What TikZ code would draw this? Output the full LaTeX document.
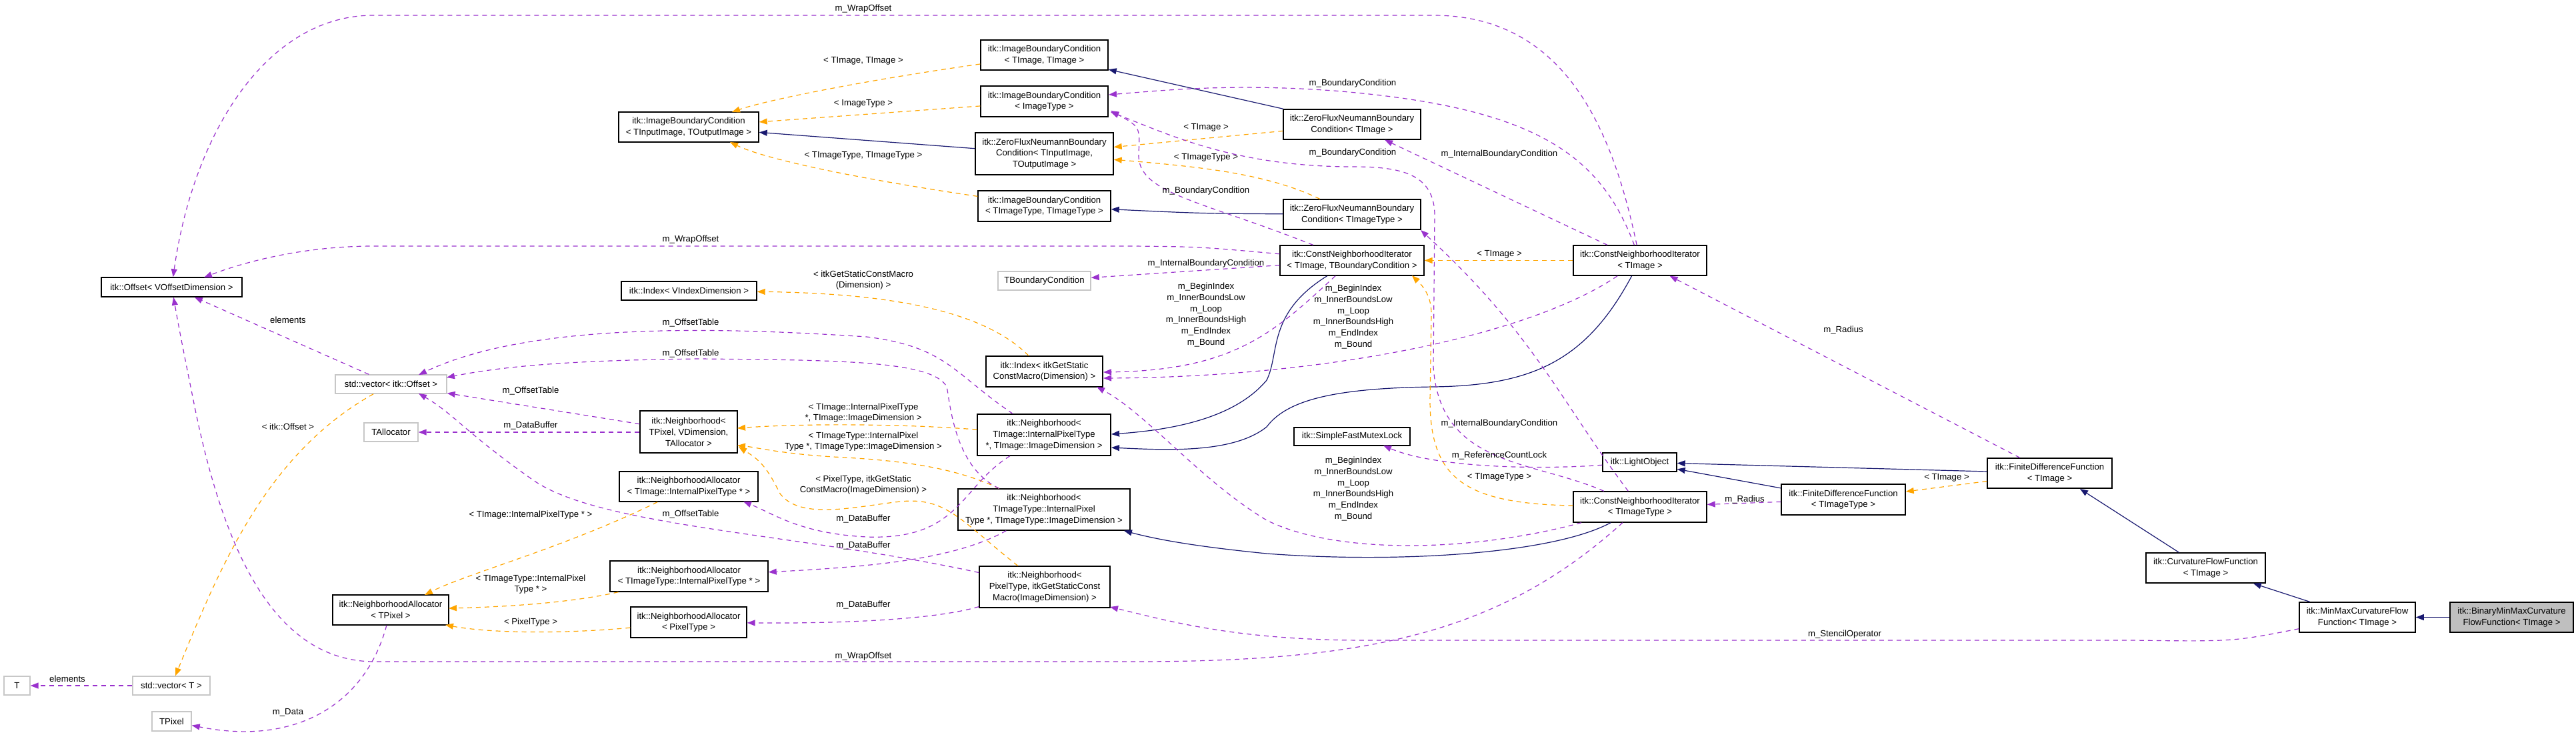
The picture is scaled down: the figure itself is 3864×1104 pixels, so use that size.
\documentclass[tikz,border=0pt]{standalone}
\usepackage{fontspec}
\setmainfont{Liberation Sans}
\usetikzlibrary{arrows.meta}
\definecolor{navy}{RGB}{25,25,112}
\definecolor{purp}{RGB}{154,50,205}
\definecolor{orng}{RGB}{255,165,0}
\newcommand\txtfont{\fontsize{6.6pt}{8.4pt}\selectfont}
\newcommand\bx[7][]{\node[box,#1,minimum width={(#5-#3)*0.5pt},minimum height={(#6-#4)*0.5pt}] (#2) at ({(#3+#5)/2},{(#4+#6)/2}) {#7};}
\begin{document}
\begin{tikzpicture}[x=0.5pt,y=-0.5pt,
  box/.style={draw=black,fill=white,align=center,font=\txtfont,inner sep=0pt,line width=0.7pt},
  gbox/.style={draw=black!22},
  lbl/.style={font=\txtfont,align=center,inner sep=0pt},
  tip/.style={-{Triangle[length=6pt,width=4.5pt]}},
  inh/.style={draw=navy,line width=0.6pt,tip,navy},
  use/.style={draw=purp,line width=0.6pt,dash pattern=on 3.5pt off 3pt,tip,purp},
  tpl/.style={draw=orng,line width=0.6pt,dash pattern=on 3.5pt off 3pt,tip,orng}]
\useasboundingbox (0,0) rectangle (3864,1104);
% nodes
\bx{off}{152}{416}{363}{445}{itk::Offset< VOffsetDimension >}
\bx{ibcIO}{928}{168}{1138}{213}{itk::ImageBoundaryCondition\\< TInputImage, TOutputImage >}
\bx{ibcTT}{1471}{60}{1662}{105}{itk::ImageBoundaryCondition\\< TImage, TImage >}
\bx{ibcI}{1471}{129}{1662}{175}{itk::ImageBoundaryCondition\\< ImageType >}
\bx{zfIO}{1463}{199}{1670}{262}{itk::ZeroFluxNeumannBoundary\\Condition< TInputImage,\\ TOutputImage >}
\bx{ibcTTT}{1467}{286}{1666}{332}{itk::ImageBoundaryCondition\\< TImageType, TImageType >}
\bx{zfT}{1925}{164}{2131}{209}{itk::ZeroFluxNeumannBoundary\\Condition< TImage >}
\bx{zfTT}{1925}{299}{2131}{344}{itk::ZeroFluxNeumannBoundary\\Condition< TImageType >}
\bx{cnibc}{1920}{368}{2136}{413}{itk::ConstNeighborhoodIterator\\< TImage, TBoundaryCondition >}
\bx[gbox]{tbc}{1497}{407}{1636}{435}{TBoundaryCondition}
\bx{idxV}{932}{422}{1135}{450}{itk::Index< VIndexDimension >}
\bx{idxS}{1479}{534}{1654}{580}{itk::Index< itkGetStatic\\ConstMacro(Dimension) >}
\bx{cniT}{2360}{368}{2560}{413}{itk::ConstNeighborhoodIterator\\< TImage >}
\bx[gbox]{vecO}{503}{562}{670}{590}{std::vector< itk::Offset >}
\bx[gbox]{talloc}{546}{634}{627}{662}{TAllocator}
\bx{nbPVA}{960}{616}{1106}{679}{itk::Neighborhood<\\ TPixel, VDimension,\\ TAllocator >}
\bx{nbTI}{1466}{621}{1666}{683}{itk::Neighborhood<\\ TImage::InternalPixelType\\ *, TImage::ImageDimension >}
\bx{mutex}{1941}{641}{2115}{668}{itk::SimpleFastMutexLock}
\bx{light}{2404}{679}{2515}{707}{itk::LightObject}
\bx{naTI}{929}{707}{1137}{752}{itk::NeighborhoodAllocator\\< TImage::InternalPixelType * >}
\bx{nbTTI}{1437}{733}{1695}{795}{itk::Neighborhood<\\ TImageType::InternalPixel\\Type *, TImageType::ImageDimension >}
\bx{cniTT}{2360}{737}{2560}{783}{itk::ConstNeighborhoodIterator\\< TImageType >}
\bx{fdfTT}{2672}{726}{2858}{772}{itk::FiniteDifferenceFunction\\< TImageType >}
\bx{fdfT}{2981}{687}{3168}{732}{itk::FiniteDifferenceFunction\\< TImage >}
\bx{naTTI}{915}{841}{1152}{887}{itk::NeighborhoodAllocator\\< TImageType::InternalPixelType * >}
\bx{nbPS}{1469}{849}{1665}{911}{itk::Neighborhood<\\ PixelType, itkGetStaticConst\\Macro(ImageDimension) >}
\bx{naP}{946}{910}{1120}{956}{itk::NeighborhoodAllocator\\< PixelType >}
\bx{naTP}{499}{892}{673}{937}{itk::NeighborhoodAllocator\\< TPixel >}
\bx{cff}{3219}{829}{3398}{874}{itk::CurvatureFlowFunction\\< TImage >}
\bx{mm}{3449}{903}{3623}{948}{itk::MinMaxCurvatureFlow\\Function< TImage >}
\bx[fill=black!25]{bin}{3675}{903}{3860}{948}{itk::BinaryMinMaxCurvature\\FlowFunction< TImage >}
\bx[gbox]{T}{6}{1014}{45}{1042}{T}
\bx[gbox]{vecT}{199}{1014}{315}{1042}{std::vector< T >}
\bx[gbox]{tpix}{228}{1067}{287}{1096}{TPixel}
% inheritance
\draw[inh] (bin) -- (mm);
\draw[inh] (mm) -- (cff);
\draw[inh] (cff.north) ++(-40,0) -- (3120,733);
\draw[inh] (fdfT) -- (light);
\draw[inh] (fdfTT) -- (light);
\draw[inh] (zfT) -- (ibcTT);
\draw[inh] (zfIO) -- (ibcIO);
\draw[inh] (zfTT) .. controls (1800,320) .. (ibcTTT);
\draw[inh] (cnibc) .. controls (1900,470) and (1920,530) .. (1900,570) .. controls (1850,630) and (1750,645) .. (1667,651);
\draw[inh] (cniT) .. controls (2380,540) and (2300,578) .. (2150,580) .. controls (2000,582) and (1930,600) .. (1900,640) .. controls (1850,680) and (1750,675) .. (1667,671);
\draw[inh] (cniTT) .. controls (2330,830) and (2100,845) .. (1900,830) .. controls (1800,820) and (1740,810) .. (nbTTI);
% templates
\draw[tpl] (ibcTT) .. controls (1300,120) and (1150,150) .. (1098,168);
\node[lbl] (l1) at (1295,91) {< TImage, TImage >};
\draw[tpl] (ibcI) -- (ibcIO);
\node[lbl] (l2) at (1295,155) {< ImageType >};
\draw[tpl] (ibcTTT) .. controls (1300,270) and (1150,240) .. (1095,213);
\node[lbl] (l3) at (1295,233) {< TImageType, TImageType >};
\draw[tpl] (zfT) -- (zfIO);
\node[lbl] (l4) at (1809,191) {< TImage >};
\draw[tpl] (zfTT) .. controls (1900,260) and (1800,250) .. (zfIO);
\node[lbl] (l5) at (1809,236) {< TImageType >};
\draw[tpl] (cniT) -- (cnibc);
\node[lbl] (l6) at (2249,381) {< TImage >};
\draw[tpl] (cniTT) .. controls (2200,755) and (2145,720) .. (2145,600) -- (2147,470) .. controls (2147,440) and (2130,425) .. (2118,413);
\node[lbl] (l7) at (2249,715) {< TImageType >};
\draw[tpl] (fdfT) -- (fdfTT);
\node[lbl] (l8) at (2920,716) {< TImage >};
\draw[tpl] (idxS) .. controls (1480,470) and (1350,440) .. (idxV);
\node[lbl] (l9) at (1295,420) {< itkGetStaticConstMacro\\(Dimension) >};
\draw[tpl] (nbTI) .. controls (1350,635) and (1200,635) .. (1106,642);
\node[lbl] (l10) at (1295,619) {< TImage::InternalPixelType\\*, TImage::ImageDimension >};
\draw[tpl] (nbTTI) .. controls (1430,700) and (1350,690) .. (1250,685) .. controls (1170,680) and (1130,670) .. (1106,668);
\node[lbl] (l11) at (1295,662) {< TImageType::InternalPixel\\Type *, TImageType::ImageDimension >};
\draw[tpl] (nbPS) .. controls (1440,780) and (1420,745) .. (1350,752) .. controls (1280,760) and (1200,780) .. (1170,740) .. controls (1150,700) and (1140,690) .. (1108,670);
\node[lbl] (l12) at (1295,727) {< PixelType, itkGetStatic\\ConstMacro(ImageDimension) >};
\draw[tpl] (naTI) .. controls (850,820) and (700,860) .. (637,892);
\node[lbl] (l13) at (796,772) {< TImage::InternalPixelType * >};
\draw[tpl] (naTTI) .. controls (850,905) and (750,910) .. (673,912);
\node[lbl] (l14) at (796,876) {< TImageType::InternalPixel\\Type * >};
\draw[tpl] (naP) .. controls (850,950) and (740,950) .. (668,937);
\node[lbl] (l15) at (796,933) {< PixelType >};
\draw[tpl] (vecO) .. controls (400,680) and (330,850) .. (vecT);
\node[lbl] (l16) at (432,640) {< itk::Offset >};
% usage
\draw[use] (cniT) .. controls (2420,200) and (2350,23) .. (2150,23) -- (560,23) .. controls (400,23) and (290,200) .. (off);
\node[lbl] (u1) at (1295,13) {m\_WrapOffset};
\draw[use] (cnibc) .. controls (1800,370) .. (1700,369) -- (560,369) .. controls (450,369) and (360,395) .. (306,416);
\node[lbl] (u2) at (1036,359) {m\_WrapOffset};
\draw[use] (cniTT) .. controls (2250,950) and (2050,992) .. (1700,992) -- (560,992) .. controls (400,990) and (330,800) .. (290,600) .. controls (270,500) .. (off);
\node[lbl] (u3) at (1295,984) {m\_WrapOffset};
\draw[use] (cniT) .. controls (2400,230) and (2300,160) .. (2000,136) .. controls (1850,125) and (1750,135) .. (1663,142);
\node[lbl] (u4) at (2029,125) {m\_BoundaryCondition};
\draw[use] (cniTT) .. controls (2300,690) and (2160,700) .. (2150,550) -- (2152,320) .. controls (2150,260) and (2100,250) .. (2030,250) .. controls (1850,250) and (1750,200) .. (1666,168);
\node[lbl] (u5) at (2029,229) {m\_BoundaryCondition};
\draw[use] (cnibc) .. controls (1800,300) and (1705,290) .. (1708,230) .. controls (1710,190) .. (1666,166);
\node[lbl] (u6) at (1809,286) {m\_BoundaryCondition};
\draw[use] (cniT) -- (zfT);
\node[lbl] (u7) at (2249,231) {m\_InternalBoundaryCondition};
\draw[use] (cniTT) .. controls (2340,600) and (2300,500) .. (2131,345);
\node[lbl] (u8) at (2249,635) {m\_InternalBoundaryCondition};
\draw[use] (cnibc) -- (tbc);
\node[lbl] (u9) at (1809,395) {m\_InternalBoundaryCondition};
\draw[use] (cnibc) .. controls (1910,500) and (1850,555) .. (1655,558);
\node[lbl] (u10) at (1809,472) {m\_BeginIndex\\m\_InnerBoundsLow\\m\_Loop\\m\_InnerBoundsHigh\\m\_EndIndex\\m\_Bound};
\draw[use] (cniT) .. controls (2300,500) and (2000,565) .. (1655,567);
\node[lbl] (u11) at (2030,475) {m\_BeginIndex\\m\_InnerBoundsLow\\m\_Loop\\m\_InnerBoundsHigh\\m\_EndIndex\\m\_Bound};
\draw[use] (cniTT) .. controls (2200,830) and (2000,830) .. (1900,780) .. controls (1800,720) and (1720,620) .. (1645,580);
\node[lbl] (u12) at (2030,733) {m\_BeginIndex\\m\_InnerBoundsLow\\m\_Loop\\m\_InnerBoundsHigh\\m\_EndIndex\\m\_Bound};
\draw[use] (fdfTT) -- (cniTT);
\node[lbl] (u13) at (2617,749) {m\_Radius};
\draw[use] (fdfT) -- (cniT);
\node[lbl] (u14) at (2765,495) {m\_Radius};
\draw[use] (light) .. controls (2300,705) and (2150,700) .. (2075,668);
\node[lbl] (u15) at (2249,683) {m\_ReferenceCountLock};
\draw[use] (mm) .. controls (3350,962) .. (3200,960) -- (2050,960) .. controls (1850,960) and (1750,930) .. (1665,910);
\node[lbl] (u16) at (2767,951) {m\_StencilOperator};
\draw[use] (nbPVA) -- (vecO);
\node[lbl] (u17) at (796,586) {m\_OffsetTable};
\draw[use] (nbPVA.west |- talloc) -- (talloc);
\node[lbl] (u18) at (796,638) {m\_DataBuffer};
\draw[use] (nbTI) .. controls (1430,560) and (1420,520) .. (1300,505) .. controls (1100,492) and (800,480) .. (628,562);
\node[lbl] (u19) at (1036,484) {m\_OffsetTable};
\draw[use] (nbTTI) .. controls (1430,700) and (1425,600) .. (1420,580) .. controls (1400,540) and (1250,540) .. (1050,538) .. controls (850,540) and (750,550) .. (670,566);
\node[lbl] (u20) at (1036,530) {m\_OffsetTable};
\draw[use] (nbPS) .. controls (1200,800) and (900,790) .. (800,720) .. controls (700,650) and (680,620) .. (628,590);
\node[lbl] (u21) at (1036,771) {m\_OffsetTable};
\draw[use] (nbTI) .. controls (1440,730) and (1440,810) .. (1300,805) .. controls (1200,800) and (1160,770) .. (1115,752);
\node[lbl] (u22) at (1295,778) {m\_DataBuffer};
\draw[use] (nbTTI) .. controls (1430,840) and (1300,850) .. (naTTI);
\node[lbl] (u23) at (1295,818) {m\_DataBuffer};
\draw[use] (nbPS) .. controls (1400,930) and (1250,935) .. (naP);
\node[lbl] (u24) at (1295,907) {m\_DataBuffer};
\draw[use] (vecO) -- (off);
\node[lbl] (u25) at (432,480) {elements};
\draw[use] (vecT) -- (T);
\node[lbl] (u26) at (101,1018) {elements};
\draw[use] (naTP) .. controls (550,1050) and (450,1120) .. (tpix);
\node[lbl] (u27) at (432,1068) {m\_Data};
\end{tikzpicture}
\end{document}
